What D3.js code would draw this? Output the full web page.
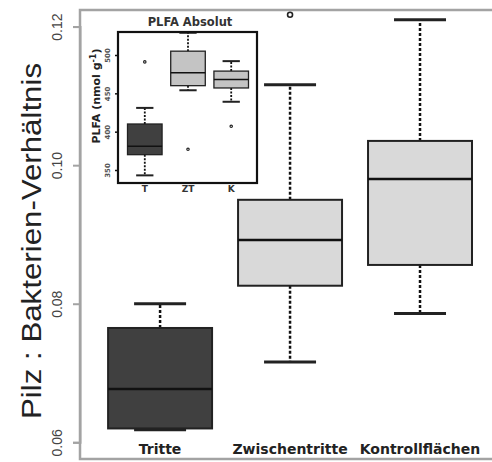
<!DOCTYPE html>
<html><head><meta charset="utf-8">
<script src="https://cdn.jsdelivr.net/npm/d3@7"></script>
<style>body{margin:0;background:#fff}svg{display:block}</style>
</head><body>
<svg id="c" width="492" height="462"></svg>
<script>
// ---- main chart data ----
const categories = ["Tritte", "Zwischentritte", "Kontrollflächen"];
const whiskerLow  = [0.0618, 0.0716, 0.0786];
const q1          = [0.0620, 0.0826, 0.0856];
const median      = [0.0677, 0.0892, 0.0980];
const q3          = [0.0765, 0.0950, 0.1035];
const whiskerHigh = [0.0800, 0.1116, 0.1210];
const outliers    = [[], [0.1217], []];
const fills       = ["#404040", "#d9d9d9", "#d9d9d9"];
const yTicks      = [0.06, 0.08, 0.10, 0.12];
const yTickLabels = ["0.06", "0.08", "0.10", "0.12"];
const yTitle = "Pilz : Bakterien-Verhältnis";

// ---- inset data ----
const insetTitle = "PLFA Absolut";
const insetCategories = ["T", "ZT", "K"];
const insetWLow  = [343, 454, 439];
const insetQ1    = [370, 460, 457];
const insetMed   = [381, 477, 468];
const insetQ3    = [410, 505, 479];
const insetWHigh = [431, 529, 492];
const insetOutliers = [[491], [377], [407]];
const insetFills = ["#404040", "#c4c4c4", "#c4c4c4"];
const insetTicks = [350, 400, 450, 500];

const svg = d3.select("#c");

// main scales
const x = d3.scaleLinear().domain([0.38, 3.62]).range([79.5, 500.6]);
const y = d3.scaleLinear().domain([0.06, 0.12]).range([442.3, 26.6]);
const bw = x(1.8) - x(1);
const xs = categories.map((c, i) => x(i + 1));

// frame
svg.append("rect").attr("x", 80).attr("y", 10).attr("width", 430).attr("height", 449)
  .attr("fill", "none").attr("stroke", "#a3a3a3").attr("stroke-width", 2.5);

// y axis
const yAxis = d3.axisLeft(y).tickValues(yTicks).tickSize(7).tickFormat((d, i) => yTickLabels[i]);
const ga = svg.append("g").attr("transform", "translate(80,0)").call(yAxis);
ga.select(".domain").attr("stroke", "#a3a3a3").attr("stroke-width", 2);
ga.selectAll(".tick line").attr("stroke", "#a3a3a3").attr("stroke-width", 2);
ga.selectAll(".tick text").remove();
ga.selectAll(".tick").append("text")
  .attr("transform", "translate(-18,0) rotate(-90)")
  .attr("text-anchor", "middle").attr("fill", "#444")
  .attr("font-family", "Liberation Sans, Arial, sans-serif").attr("font-size", 14)
  .text((d, i) => yTickLabels[i]);

svg.append("text").attr("transform", `translate(41,241) rotate(-90)`)
  .attr("text-anchor", "middle").attr("font-family", "Liberation Sans, Arial, sans-serif")
  .attr("font-size", 27).attr("textLength", 356).attr("lengthAdjust", "spacingAndGlyphs")
  .attr("fill", "#222").text(yTitle);

// boxes
function drawBoxes(g, xs, yS, bw, wl, lo, md, hi, wh, outs, fl, opt) {
  xs.forEach((cx, i) => {
    g.append("line").attr("x1", cx).attr("x2", cx).attr("y1", yS(hi[i])).attr("y2", yS(wh[i]))
      .attr("stroke", "#111").attr("stroke-width", opt.ws).attr("stroke-dasharray", opt.dash);
    g.append("line").attr("x1", cx).attr("x2", cx).attr("y1", yS(lo[i])).attr("y2", yS(wl[i]))
      .attr("stroke", "#111").attr("stroke-width", opt.ws).attr("stroke-dasharray", opt.dash);
    [wl[i], wh[i]].forEach(v => {
      g.append("line").attr("x1", cx - bw / 4).attr("x2", cx + bw / 4).attr("y1", yS(v)).attr("y2", yS(v))
        .attr("stroke", "#222").attr("stroke-width", opt.cs);
    });
    g.append("rect").attr("x", cx - bw / 2).attr("width", bw)
      .attr("y", yS(hi[i])).attr("height", yS(lo[i]) - yS(hi[i]))
      .attr("fill", fl[i]).attr("stroke", "#222").attr("stroke-width", opt.bs);
    g.append("line").attr("x1", cx - bw / 2).attr("x2", cx + bw / 2).attr("y1", yS(md[i])).attr("y2", yS(md[i]))
      .attr("stroke", "#111").attr("stroke-width", opt.ms);
    outs[i].forEach(v => {
      g.append("circle").attr("cx", cx).attr("cy", yS(v)).attr("r", opt.r)
        .attr("fill", "none").attr("stroke", "#222").attr("stroke-width", opt.os);
    });
  });
}
const gm = svg.append("g");
drawBoxes(gm, xs, y, bw, whiskerLow, q1, median, q3, whiskerHigh, outliers, fills,
  {ws: 2.5, dash: "3,2", cs: 3, bs: 2, ms: 2.5, r: 2.5, os: 1.6});

// category labels
svg.selectAll("text.cat").data(categories).join("text").attr("class", "cat")
  .attr("x", (d, i) => xs[i]).attr("y", 454).attr("text-anchor", "middle")
  .attr("font-family", "DejaVu Sans, sans-serif").attr("font-weight", "bold")
  .attr("font-size", 14).attr("fill", "#222").text(d => d);

// ---- inset ----
const gi = svg.append("g");
gi.append("rect").attr("x", 84).attr("y", 12).attr("width", 180).attr("height", 186).attr("fill", "#fff");
const ix = d3.scaleLinear().domain([0.38, 3.62]).range([118, 258]);
const iy = d3.scaleLinear().domain([350, 500]).range([170, 55]);
const ibw = ix(1.8) - ix(1);
const ixs = insetCategories.map((c, i) => ix(i + 1));
drawBoxes(gi, ixs, iy, ibw, insetWLow, insetQ1, insetMed, insetQ3, insetWHigh, insetOutliers, insetFills,
  {ws: 1.8, dash: "2,1.5", cs: 2, bs: 1.3, ms: 1.5, r: 1.2, os: 1.2});
gi.append("rect").attr("x", 118).attr("y", 32).attr("width", 139).attr("height", 151)
  .attr("fill", "none").attr("stroke", "#111").attr("stroke-width", 2.2);
const iAxis = d3.axisLeft(iy).tickValues(insetTicks).tickSize(3).tickFormat(d3.format("d"));
const gia = gi.append("g").attr("transform", "translate(118,0)").call(iAxis);
gia.select(".domain").remove();
gia.selectAll(".tick line").attr("stroke", "#111").attr("stroke-width", 1.5);
gia.selectAll(".tick text").remove();
gia.selectAll(".tick").append("text").attr("transform", "translate(-8,0) rotate(-90)")
  .attr("text-anchor", "middle").attr("font-family", "DejaVu Sans, sans-serif")
  .attr("font-weight", "bold").attr("font-size", 7).attr("fill", "#555").text(d => d);
gi.append("text").attr("transform", "translate(100,96) rotate(-90)").attr("text-anchor", "middle")
  .attr("font-family", "DejaVu Sans, sans-serif").attr("font-weight", "bold").attr("font-size", 11)
  .attr("fill", "#222")
  .html('PLFA (nmol g<tspan dy="-4" font-size="8">-1</tspan><tspan dy="4">)</tspan>');
gi.selectAll("text.icat").data(insetCategories).join("text").attr("class", "icat")
  .attr("x", (d, i) => ixs[i]).attr("y", 192).attr("text-anchor", "middle")
  .attr("font-family", "DejaVu Sans, sans-serif").attr("font-weight", "bold")
  .attr("font-size", 9).attr("fill", "#333").text(d => d);
gi.append("text").attr("x", 190).attr("y", 26).attr("text-anchor", "middle")
  .attr("font-family", "DejaVu Sans, sans-serif").attr("font-weight", "bold").attr("font-size", 11.5)
  .attr("fill", "#333").text(insetTitle);
</script>
</body></html>
